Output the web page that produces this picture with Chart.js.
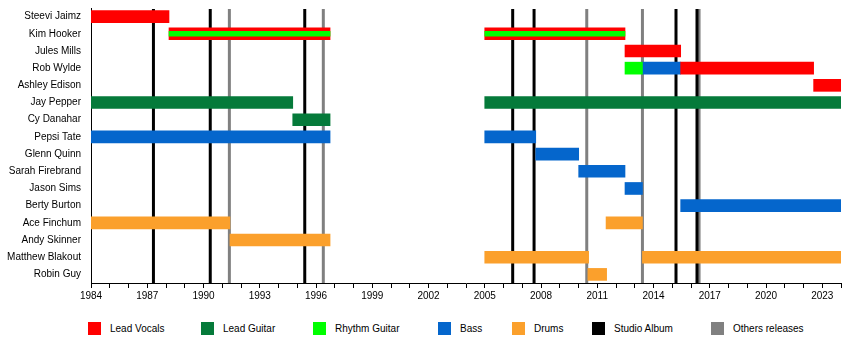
<!DOCTYPE html>
<html>
<head>
<meta charset="utf-8">
<script src="https://cdn.jsdelivr.net/npm/chart.js@4/dist/chart.umd.min.js"></script>
<style>
  body { margin: 0; background: #fff; }
  #wrap { position: relative; width: 850px; height: 340px; font-family: 'Liberation Sans', Arial, sans-serif; }
  .lg-box { position: absolute; top: 322px; width: 13px; height: 13px; }
  .lg-txt { position: absolute; top: 322px; font-size: 10px; line-height: 13px; color: #000; white-space: nowrap; }
</style>
</head>
<body>
<div id="wrap">
  <canvas id="timeline" width="850" height="304"></canvas>
  <div id="legend"></div>
</div>
<script>
// Configuração Global Chart.js
Chart.defaults.color = '#000';
Chart.defaults.font.family = "'Liberation Sans', Arial, sans-serif";
Chart.defaults.font.size = 10;

const members = ['Steevi Jaimz', 'Kim Hooker', 'Jules Mills', 'Rob Wylde', 'Ashley Edison', 'Jay Pepper',
    'Cy Danahar', 'Pepsi Tate', 'Glenn Quinn', 'Sarah Firebrand', 'Jason Sims', 'Berty Burton',
    'Ace Finchum', 'Andy Skinner', 'Matthew Blakout', 'Robin Guy'];

// [member, start, end]
const leadVocals = [
    ['Steevi Jaimz', 1984, 1988.16],
    ['Kim Hooker', 1988.16, 1996.75],
    ['Kim Hooker', 2005, 2012.48],
    ['Jules Mills', 2012.48, 2015.45],
    ['Rob Wylde', 2015.45, 2022.54],
    ['Ashley Edison', 2022.54, 2024]
];
const leadGuitar = [
    ['Jay Pepper', 1984, 1994.76],
    ['Jay Pepper', 2005, 2024],
    ['Cy Danahar', 1994.76, 1996.75]
];
// rhythm guitar played alongside lead vocals (drawn as a stripe)
const rhythmWithVocals = [
    ['Kim Hooker', 1988.16, 1996.75],
    ['Kim Hooker', 2005, 2012.48]
];
const rhythmGuitar = [
    ['Rob Wylde', 2012.48, 2013.41]
];
const bass = [
    ['Rob Wylde', 2013.41, 2015.45],
    ['Pepsi Tate', 1984, 1996.75],
    ['Pepsi Tate', 2005, 2007.72],
    ['Glenn Quinn', 2007.72, 2010.01],
    ['Sarah Firebrand', 2010.01, 2012.48],
    ['Jason Sims', 2012.48, 2013.41],
    ['Berty Burton', 2015.45, 2024]
];
const drums = [
    ['Ace Finchum', 1984, 1991.41],
    ['Ace Finchum', 2011.47, 2013.41],
    ['Andy Skinner', 1991.41, 1996.75],
    ['Matthew Blakout', 2005, 2010.54],
    ['Matthew Blakout', 2013.41, 2024],
    ['Robin Guy', 2010.5, 2011.5]
];

// release markers
const studioAlbums = [1987.33, 1990.36, 1995.4, 2006.49, 2007.63, 2015.2, 2016.32];
const otherReleases = [1991.38, 1996.39, 2010.44, 2013.41, 2016.43];

const yearMin = 1984;
const yearMax = 2024;

const colors = {
    vocals: '#ff0000',
    guitar: '#057a3a',
    rhythm: '#00ff00',
    bass: '#0566cc',
    drums: '#fba02c',
    album: '#000000',
    other: '#808080'
};

const toBars = (rows) => rows.map(r => ({ y: r[0], x: [r[1], r[2]] }));

// Linhas verticais (lançamentos) atrás das barras
const releaseLines = {
    id: 'releaseLines',
    beforeDatasetsDraw(chart) {
        const { ctx, chartArea, scales } = chart;
        const draw = (list, color) => {
            list.forEach(yr => {
                const x = scales.x.getPixelForValue(yr);
                ctx.save();
                ctx.strokeStyle = color;
                ctx.lineWidth = 3;
                ctx.beginPath();
                ctx.moveTo(x, chartArea.top + 1);
                ctx.lineTo(x, chartArea.bottom);
                ctx.stroke();
                ctx.restore();
            });
        };
        draw(otherReleases, colors.other);
        draw(studioAlbums, colors.album);
    }
};

const barDefaults = { grouped: false, barThickness: 12, borderWidth: 0, borderSkipped: false, order: 1 };

new Chart(document.getElementById('timeline'), {
    type: 'bar',
    data: {
        labels: members,
        datasets: [
            { ...barDefaults, label: 'Rhythm Guitar', data: toBars(rhythmWithVocals), backgroundColor: colors.rhythm, barThickness: 5, order: 0 },
            { ...barDefaults, label: 'Lead Vocals', data: toBars(leadVocals), backgroundColor: colors.vocals },
            { ...barDefaults, label: 'Lead Guitar', data: toBars(leadGuitar), backgroundColor: colors.guitar },
            { ...barDefaults, label: 'Rhythm Guitar', data: toBars(rhythmGuitar), backgroundColor: colors.rhythm },
            { ...barDefaults, label: 'Bass', data: toBars(bass), backgroundColor: colors.bass },
            { ...barDefaults, label: 'Drums', data: toBars(drums), backgroundColor: colors.drums }
        ]
    },
    options: {
        indexAxis: 'y',
        responsive: false,
        animation: false,
        layout: { padding: { left: 6, right: 9, top: 8, bottom: 0 } },
        plugins: { legend: { display: false }, tooltip: { enabled: false } },
        scales: {
            x: {
                type: 'linear',
                min: yearMin,
                max: yearMax,
                border: { display: true, color: '#000', width: 1 },
                grid: { display: true, drawOnChartArea: false, drawTicks: true, tickLength: 5, color: '#000' },
                ticks: {
                    stepSize: 1,
                    autoSkip: false,
                    maxRotation: 0,
                    padding: 2,
                    color: '#000',
                    callback: (v) => ((v - yearMin) % 3 === 0 ? String(v) : '')
                }
            },
            y: {
                type: 'category',
                offset: true,
                border: { display: true, color: '#000', width: 1 },
                grid: { display: false, drawTicks: false },
                ticks: { padding: 10, color: '#000' },
                afterFit: (scale) => {
                    scale.width = 85;
                    scale.paddingTop = 0;
                    scale.paddingBottom = 0;
                }
            }
        }
    },
    plugins: [releaseLines]
});

// Legenda
const legendItems = [
    ['Lead Vocals', colors.vocals, 88],
    ['Lead Guitar', colors.guitar, 201],
    ['Rhythm Guitar', colors.rhythm, 313],
    ['Bass', colors.bass, 438],
    ['Drums', colors.drums, 512],
    ['Studio Album', colors.album, 592],
    ['Others releases', colors.other, 711]
];
const legendEl = document.getElementById('legend');
legendItems.forEach(([text, color, left]) => {
    const box = document.createElement('div');
    box.className = 'lg-box';
    box.style.left = left + 'px';
    box.style.background = color;
    legendEl.appendChild(box);
    const t = document.createElement('div');
    t.className = 'lg-txt';
    t.style.left = (left + 22) + 'px';
    t.textContent = text;
    legendEl.appendChild(t);
});
</script>
</body>
</html>
